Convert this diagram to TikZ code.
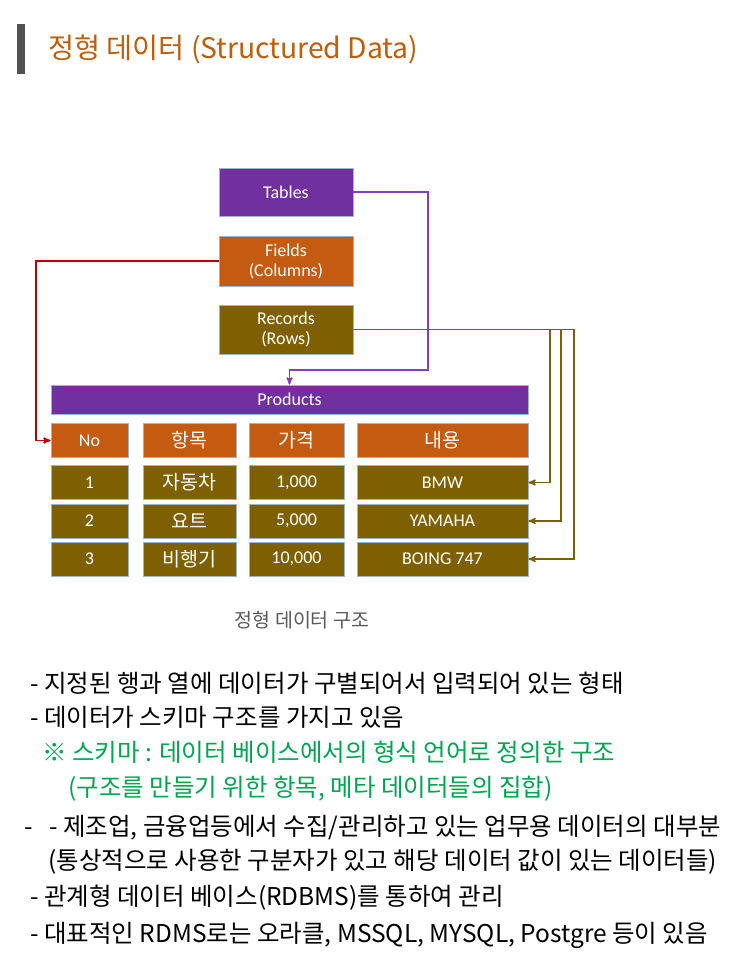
\documentclass[tikz,border=0pt]{standalone}
\usepackage{fontspec}
\setmainfont{Noto Sans CJK KR}
\newfontfamily\calfont{Carlito}
\newfontfamily\krfont{Noto Sans CJK KR}
\usetikzlibrary{arrows}
\definecolor{tblpurple}{HTML}{7030A0}
\definecolor{fldorange}{HTML}{C55A11}
\definecolor{recolive}{HTML}{7F6000}
\definecolor{cellrim}{HTML}{9DB4CF}
\definecolor{lnpurple}{HTML}{8040BF}
\definecolor{lnred}{HTML}{C00000}
\definecolor{ttlorange}{HTML}{BF5E0A}
\definecolor{notegreen}{HTML}{00A550}
\begin{document}
\begin{tikzpicture}[x=1pt,y=-1pt,>=stealth',
        box/.style={draw=cellrim,line width=0.8pt,inner sep=0pt,text=white,
          font=\calfont\fontsize{18}{20}\selectfont,align=center},
        purple box/.style={box,fill=tblpurple},
        orange box/.style={box,fill=fldorange},
        olive box/.style={box,fill=recolive},
        hdr/.style={orange box,minimum height=34pt},
        row/.style={olive box,minimum height=34pt},
        kr/.style={font=\krfont\fontsize{19.5}{22}\selectfont},
        link/.style={line width=1.5pt},
        line/.style={anchor=base west,inner sep=0pt,font=\fontsize{24.5}{28}\selectfont}]
        \useasboundingbox (0,0) rectangle (738,965);
        % title
        \fill[black!68] (17,24) rectangle (25,74);
        \node[anchor=base west,inner sep=0pt,text=ttlorange,font=\fontsize{28.3}{32}\selectfont] (title) at (48,59) {정형 데이터 (Structured Data)};
        % legend boxes
        \node[purple box,minimum width=134pt,minimum height=48pt] (tables) at (286,192) {Tables};
        \node[orange box,minimum width=134pt,minimum height=50pt] (fields) at (286,261) {Fields\\(Columns)};
        \node[olive box,minimum width=134pt,minimum height=49pt] (records) at (286,329.5) {Records\\(Rows)};
        % table
        \node[purple box,minimum width=477pt,minimum height=29pt] (products) at (289.5,399.5) {Products};
        \node[hdr,minimum width=77pt] (no) at (89.5,440.5) {No};
        \node[hdr,kr,minimum width=93pt] (item) at (189.5,440.5) {항목};
        \node[hdr,kr,minimum width=95pt] (price) at (296.5,440.5) {가격};
        \node[hdr,kr,minimum width=171pt] (desc) at (442.5,440.5) {내용};
        \node[row,minimum width=77pt] (no1) at (89.5,482.5) {1};
        \node[row,kr,minimum width=93pt] (item1) at (189.5,482.5) {자동차};
        \node[row,minimum width=95pt] (price1) at (296.5,482.5) {1,000};
        \node[row,minimum width=171pt] (desc1) at (442.5,482.5) {BMW};
        \node[row,minimum width=77pt] (no2) at (89.5,521) {2};
        \node[row,kr,minimum width=93pt] (item2) at (189.5,521) {요트};
        \node[row,minimum width=95pt] (price2) at (296.5,521) {5,000};
        \node[row,minimum width=171pt] (desc2) at (442.5,521) {YAMAHA};
        \node[row,minimum width=77pt] (no3) at (89.5,559) {3};
        \node[row,kr,minimum width=93pt] (item3) at (189.5,559) {비행기};
        \node[row,minimum width=95pt] (price3) at (296.5,559) {10,000};
        \node[row,minimum width=171pt] (desc3) at (442.5,559) {BOING 747};
        % turning points
        \coordinate (tturn) at (428,370);
        \coordinate (fturn) at (36,440.5);
        \coordinate (rturn1) at (550,482.5);
        \coordinate (rturn2) at (561,521);
        \coordinate (rturn3) at (574,559);
        \draw[link,lnpurple,->] (tables.east) -| (tturn) -| (products.north);
        \draw[link,lnred,->] (fields.west) -| (fturn) -- (no.west);
        \draw[link,recolive,->] (records.east) -| (rturn1) -- (desc1.east);
        \draw[link,recolive,->] (records.east) -| (rturn2) -- (desc2.east);
        \draw[link,recolive,->] (records.east) -| (rturn3) -- (desc3.east);
        \node[anchor=base,inner sep=0pt,text=black!65,font=\fontsize{19.5}{22}\selectfont] (caption) at (302,627) {정형 데이터 구조};
        % notes
        \node[line] (l1) at (30,692) {- 지정된 행과 열에 데이터가 구별되어서 입력되어 있는 형태};
        \node[line] (l2) at (30,726) {- 데이터가 스키마 구조를 가지고 있음};
        \node[line,text=notegreen] (l3) at (42,761) {※ 스키마 : 데이터 베이스에서의 형식 언어로 정의한 구조};
        \node[line,text=notegreen] (l4) at (68,796) {(구조를 만들기 위한 항목, 메타 데이터들의 집합)};
        \node[line] (l5) at (24,835) {-\ \ \ - 제조업, 금융업등에서 수집/관리하고 있는 업무용 데이터의 대부분};
        \node[line] (l6) at (48,869) {(통상적으로 사용한 구분자가 있고 해당 데이터 값이 있는 데이터들)};
        \node[line] (l7) at (30,905) {- 관계형 데이터 베이스(RDBMS)를 통하여 관리};
        \node[line] (l8) at (30,942) {- 대표적인 RDMS로는 오라클, MSSQL, MYSQL, Postgre 등이 있음};
\end{tikzpicture}
\end{document}
